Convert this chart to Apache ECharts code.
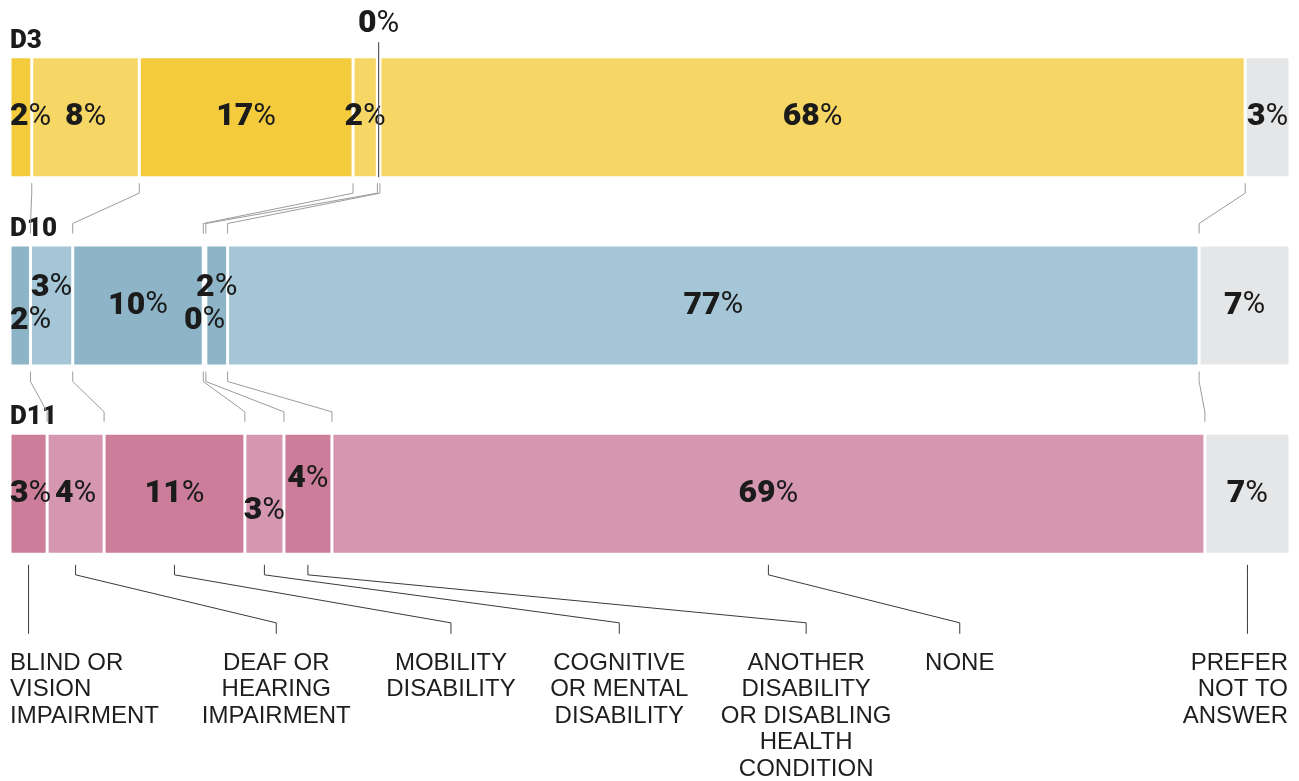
<!DOCTYPE html>
<html>
<head>
<meta charset="utf-8">
<script src="https://cdn.jsdelivr.net/npm/echarts@6/dist/echarts.min.js"></script>
<style>
html,body{margin:0;padding:0;background:#fff;}
#chart{width:1299px;height:781px;}
</style>
</head>
<body>
<div id="chart"></div>
<script>
// ---------------- DATA ----------------
const categories = ['D3', 'D10', 'D11'];
const segmentNames = [
  'Blind or vision impairment',
  'Deaf or hearing impairment',
  'Mobility disability',
  'Cognitive or mental disability',
  'Another disability or disabling health condition',
  'None',
  'Prefer not to answer'
];
const bottomLabels = [
  'BLIND OR\nVISION\nIMPAIRMENT',
  'DEAF OR\nHEARING\nIMPAIRMENT',
  'MOBILITY\nDISABILITY',
  'COGNITIVE\nOR MENTAL\nDISABILITY',
  'ANOTHER\nDISABILITY\nOR DISABLING\nHEALTH\nCONDITION',
  'NONE',
  'PREFER\nNOT TO\nANSWER'
];
// segment shares (%)
const d3Values  = [1.7, 8.4, 16.7, 1.9, 0.2, 67.6, 3.5];
const d10Values = [1.6, 3.3, 10.2, 0.2, 1.7, 75.9, 7.1];
const d11Values = [2.9, 4.45, 11.0, 3.05, 3.75, 68.2, 6.65];
// printed percentage labels
const d3Labels  = [2, 8, 17, 2, 0, 68, 3];
const d10Labels = [2, 3, 10, 0, 2, 77, 7];
const d11Labels = [3, 4, 11, 3, 4, 69, 7];

// ---------------- STYLE / LAYOUT ----------------
const rowValues = [d3Values, d10Values, d11Values];
const rowLabels = [d3Labels, d10Labels, d11Labels];
const rowColors = [
  { dark: '#F4CB3C', light: '#F6D766' },
  { dark: '#8DB5C7', light: '#A4C6D6' },
  { dark: '#CB7D9A', light: '#D596B0' }
];
const greyColor = '#E5E6E8';
const BAR_H = 120;
const labelPlacement = [
  { 0: { position: 'insideLeft', distance: 0 }, 4: { offset: [0, -93] } },
  { 0: { position: 'insideLeft', distance: 0, offset: [0, 15] }, 1: { offset: [0, -18] }, 3: { offset: [0, 15] }, 4: { offset: [0, -18] } },
  { 0: { position: 'insideLeft', distance: 0 }, 3: { offset: [0, 17] }, 4: { offset: [0, -15] } }
];
// x-anchor (axis units) of the bottom category labels; null = directly under segment
const bottomAnchor = [null, 20.8, 34.45, 47.6, 62.2, 74.2, null];

function cumulative(vals) {
  const out = [];
  let s = 0;
  for (const v of vals) { s += v; out.push(s); }
  return out;
}
const rowCum = rowValues.map(cumulative);

function segColor(r, k) {
  if (k === 6) return greyColor;
  return k % 2 === 0 ? rowColors[r].dark : rowColors[r].light;
}

const barSeries = segmentNames.map((name, k) => ({
  name: name,
  type: 'bar',
  stack: 'total',
  barWidth: BAR_H + 1,
  z: 2,
  itemStyle: { borderColor: '#ffffff', borderWidth: 1.5 },
  data: categories.map((c, r) => {
    const extra = labelPlacement[r][k] || {};
    return {
      value: rowValues[r][k],
      itemStyle: { color: segColor(r, k) },
      label: Object.assign({
        show: true,
        position: 'inside',
        formatter: () => '{n|' + rowLabels[r][k] + '}{p|%}',
        rich: {
          n: { fontFamily: 'Roboto', fontWeight: 900, fontSize: 32, color: '#1b1b1b' },
          p: { fontFamily: 'Roboto', fontWeight: 'normal', fontSize: 31, color: '#1b1b1b' }
        }
      }, extra)
    };
  })
}));

function renderOverlay(params, api) {
  const children = [];
  const centers = categories.map((c, r) => api.coord([0, r]));
  const x0 = centers[0][0];
  const xOf = (v, r) => api.coord([v, r])[0];
  const tops = centers.map(c => c[1] - BAR_H / 2);
  const bots = centers.map(c => c[1] + BAR_H / 2);

  // row titles
  categories.forEach((c, r) => {
    children.push({
      type: 'text',
      style: {
        x: x0, y: tops[r] - 16, text: c,
        fontFamily: 'Roboto', fontWeight: 900, fontSize: 26,
        fill: '#1b1b1b', align: 'left', verticalAlign: 'middle'
      }
    });
  });

  // connectors between bars
  for (let r = 0; r < categories.length - 1; r++) {
    for (let k = 0; k < segmentNames.length - 1; k++) {
      const xa = xOf(rowCum[r][k], r);
      const xb = xOf(rowCum[r + 1][k], r + 1);
      children.push({
        type: 'polyline',
        shape: { points: [[xa, bots[r] + 6], [xa, bots[r] + 16], [xb, tops[r + 1] - 22], [xb, tops[r + 1] - 12]] },
        style: { stroke: '#9c9c9c', lineWidth: 1, fill: null }
      });
    }
  }

  // 0% leader on first row
  const zeroStart = rowCum[0][3];
  const xz = xOf(zeroStart + d3Values[4] / 2, 0);
  children.push({
    type: 'line',
    shape: { x1: xz, y1: tops[0] - 15, x2: xz, y2: bots[0] },
    style: { stroke: '#5a5a5a', lineWidth: 1.2 }
  });

  // bottom connectors + labels
  const last = categories.length - 1;
  const xEnd = xOf(100, last);
  segmentNames.forEach((n, k) => {
    const start = k === 0 ? 0 : rowCum[last][k - 1];
    const xs = xOf(start + rowValues[last][k] / 2, last);
    const yb = bots[last];
    let xe = bottomAnchor[k] === null ? xs : xOf(bottomAnchor[k], last);
    children.push({
      type: 'polyline',
      shape: { points: [[xs, yb + 11], [xs, yb + 21], [xe, yb + 69], [xe, yb + 80]] },
      style: { stroke: '#3a3a3a', lineWidth: 1, fill: null }
    });
    let tx = xe, align = 'center';
    if (k === 0) { tx = x0; align = 'left'; }
    if (k === segmentNames.length - 1) { tx = xEnd - 2; align = 'right'; }
    children.push({
      type: 'text',
      style: {
        x: tx, y: yb + 96, text: bottomLabels[k],
        fontFamily: 'Liberation Sans', fontSize: 24, lineHeight: 26.5,
        fill: '#1e1e1e', align: align, verticalAlign: 'top'
      }
    });
  });

  return { type: 'group', children: children };
}

const chart = echarts.init(document.getElementById('chart'), null, { renderer: 'canvas' });
chart.setOption({
  animation: false,
  backgroundColor: '#ffffff',
  grid: { left: 10, right: 9, top: 23, bottom: 193, containLabel: false },
  xAxis: { type: 'value', min: 0, max: 100, show: false },
  yAxis: { type: 'category', data: categories, inverse: true, show: false },
  series: barSeries.concat([{
    type: 'custom',
    name: 'annotations',
    coordinateSystem: 'cartesian2d',
    clip: false,
    z: 5,
    silent: true,
    data: [[0, 0]],
    renderItem: renderOverlay
  }])
});
</script>
</body>
</html>
